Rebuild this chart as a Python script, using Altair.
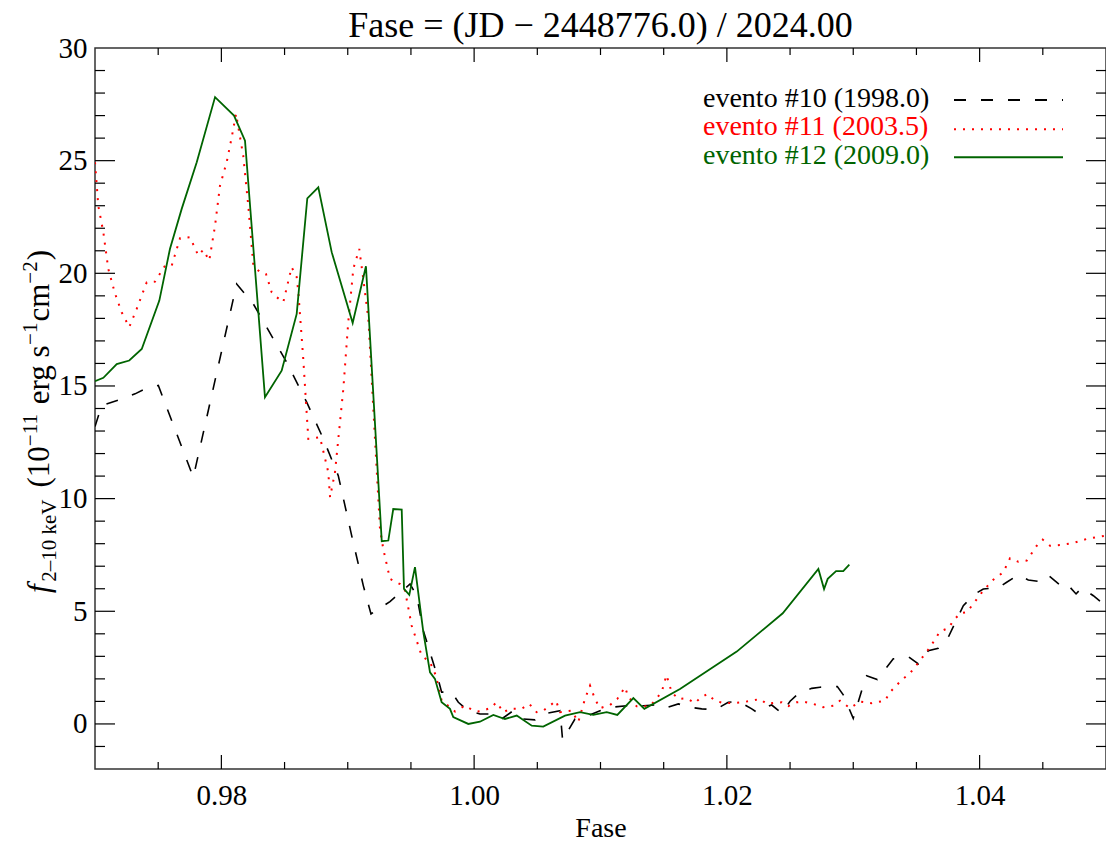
import altair as alt
import pandas as pd

FONT = "Liberation Serif"

# ---------------- data ----------------
# evento #10 (1998.0) - black dashed
x10 = [0.97000, 0.97053, 0.97219, 0.97317, 0.97422, 0.97501, 0.97778, 0.98121, 0.98253, 0.98517,
       0.98675, 0.98807, 0.98925, 0.99031, 0.99123, 0.99184, 0.99334, 0.99493, 0.99546, 0.99598,
       0.99704, 0.99743, 0.99823, 0.99875, 0.99954, 1.00046, 1.00152, 1.00218, 1.00310, 1.00389,
       1.00482, 1.00547, 1.00680, 1.00700, 1.00798, 1.00891, 1.00996, 1.01089, 1.01207, 1.01339,
       1.01431, 1.01510, 1.01616, 1.01708, 1.01801, 1.01906, 1.02011, 1.02090, 1.02197, 1.02236,
       1.02276, 1.02355, 1.02434, 1.02500, 1.02573, 1.02671, 1.02737, 1.02874, 1.02921, 1.03000,
       1.03067, 1.03106, 1.03190, 1.03317, 1.03436, 1.03515, 1.03594, 1.03673, 1.03752, 1.03871,
       1.03963, 1.04029, 1.04148, 1.04214, 1.04306, 1.04385, 1.04509, 1.04551, 1.04642, 1.04676,
       1.04715, 1.04763, 1.04808, 1.04900, 1.05000]
y10 = [13.20, 14.13, 14.43, 14.65, 14.94, 15.02, 10.95, 19.53, 18.64, 16.05,
       14.28, 12.65, 11.02, 8.36, 6.14, 4.88, 5.43, 6.21, 5.69, 4.14,
       2.22, 1.41, 1.41, 0.96, 0.59, 0.44, 0.44, 0.22, 0.59, 0.22,
       0.18, 0.44, 0.59, -0.71, 0.22, 0.34, 0.59, 0.74, 0.81, 0.81,
       0.84, 0.70, 0.89, 0.74, 0.67, 0.63, 0.96, 1.01, 0.67, 0.52,
       0.67, 0.84, 0.47, 1.01, 1.38, 1.58, 1.63, 1.66, 1.29, 0.25,
       1.48, 2.14, 1.97, 2.89, 2.99, 2.66, 3.25, 3.36, 3.85, 5.25,
       5.77, 5.99, 6.04, 6.29, 6.61, 6.39, 6.29, 6.56, 6.14, 5.95,
       6.07, 5.77, 6.04, 5.69, 5.24]

# evento #11 (2003.5) - red dotted
x11 = [0.97000, 0.97026, 0.97066, 0.97105, 0.97158, 0.97211, 0.97271, 0.97330, 0.97409, 0.97475,
       0.97554, 0.97607, 0.97673, 0.97752, 0.97817, 0.97857, 0.97904, 0.97950, 0.97989, 0.98042,
       0.98082, 0.98116, 0.98173, 0.98213, 0.98253, 0.98306, 0.98353, 0.98398, 0.98438, 0.98490,
       0.98556, 0.98596, 0.98609, 0.98648, 0.98688, 0.98780, 0.98846, 0.98860, 0.98899, 0.98965,
       0.99004, 0.99044, 0.99091, 0.99123, 0.99163, 0.99255, 0.99281, 0.99334, 0.99413, 0.99453,
       0.99506, 0.99585, 0.99651, 0.99698, 0.99743, 0.99809, 0.99849, 0.99928, 0.99994, 1.00046,
       1.00126, 1.00179, 1.00231, 1.00284, 1.00376, 1.00437, 1.00495, 1.00547, 1.00600, 1.00648,
       1.00680, 1.00772, 1.00824, 1.00877, 1.00917, 1.00956, 1.00996, 1.01075, 1.01133, 1.01194,
       1.01220, 1.01286, 1.01392, 1.01484, 1.01522, 1.01563, 1.01616, 1.01682, 1.01748, 1.01787,
       1.01845, 1.01906, 1.01972, 1.02051, 1.02117, 1.02197, 1.02262, 1.02315, 1.02367, 1.02434,
       1.02486, 1.02553, 1.02605, 1.02684, 1.02763, 1.02842, 1.02895, 1.02974, 1.03053, 1.03146,
       1.03251, 1.03291, 1.03383, 1.03449, 1.03528, 1.03607, 1.03686, 1.03752, 1.03792, 1.03845,
       1.03898, 1.03950, 1.04029, 1.04108, 1.04187, 1.04240, 1.04306, 1.04373, 1.04452, 1.04499,
       1.04557, 1.04636, 1.04741, 1.04847, 1.04926, 1.05000]
y11 = [24.93, 23.00, 21.82, 20.20, 19.11, 18.27, 17.61, 18.42, 19.60, 19.63,
       20.34, 20.34, 21.56, 21.60, 20.79, 21.04, 20.56, 22.12, 23.89, 24.93,
       26.04, 27.08, 25.22, 23.00, 20.34, 20.05, 19.97, 19.16, 18.94, 18.72,
       20.27, 19.83, 19.16, 16.20, 12.65, 12.73, 11.17, 10.06, 11.17, 14.87,
       17.83, 20.20, 21.08, 19.75, 17.98, 8.66, 7.77, 6.44, 6.21, 5.92,
       4.36, 3.03, 2.74, 2.14, 1.03, 0.74, 0.55, 0.81, 0.59, 0.55,
       0.70, 0.96, 0.52, 0.67, 0.67, 0.89, 0.52, 0.59, 0.81, 1.03,
       0.52, 0.59, 0.08, 1.11, 1.70, 1.11, 0.70, 0.84, 1.11, 1.63,
       1.20, 0.78, 0.79, 1.41, 2.17, 1.41, 1.11, 1.14, 0.93, 1.14,
       1.33, 1.03, 0.93, 0.93, 0.96, 1.03, 1.11, 0.89, 0.93, 0.96,
       0.79, 0.96, 0.99, 0.89, 0.74, 0.81, 1.03, 0.70, 0.99, 0.92,
       1.03, 1.41, 1.95, 2.25, 2.81, 3.40, 4.10, 4.25, 4.58, 4.91,
       4.96, 5.33, 5.92, 6.40, 6.73, 7.35, 7.20, 7.25, 7.91, 8.18,
       7.91, 7.94, 8.03, 8.21, 8.29, 8.36]

# evento #12 (2009.0) - green solid
x12 = [0.97000, 0.97066, 0.97172, 0.97271, 0.97370, 0.97509, 0.97593, 0.97686, 0.97805, 0.97950,
       0.98100, 0.98187, 0.98345, 0.98477, 0.98596, 0.98680, 0.98767, 0.98873, 0.99039, 0.99144,
       0.99269, 0.99321, 0.99360, 0.99427, 0.99445, 0.99487, 0.99532, 0.99598, 0.99651, 0.99690,
       0.99743, 0.99809, 0.99835, 0.99954, 1.00046, 1.00152, 1.00244, 1.00337, 1.00456, 1.00547,
       1.00719, 1.00838, 1.00943, 1.01049, 1.01133, 1.01260, 1.01347, 1.01629, 1.02078, 1.02442,
       1.02724, 1.02769, 1.02798, 1.02864, 1.02921, 1.02969]
y12 = [15.21, 15.36, 15.97, 16.13, 16.64, 18.79, 21.08, 22.86, 24.93, 27.82,
       27.00, 25.89, 14.50, 15.68, 18.20, 23.33, 23.82, 20.94, 17.80, 20.31,
       8.11, 8.14, 9.54, 9.51, 5.99, 5.73, 6.96, 4.07, 2.29, 2.00,
       0.96, 0.67, 0.30, 0.00, 0.10, 0.40, 0.22, 0.37, -0.08, -0.12,
       0.37, 0.52, 0.40, 0.52, 0.40, 1.15, 0.67, 1.55, 3.21, 4.91,
       6.88, 5.99, 6.44, 6.78, 6.78, 7.07]

series_x = [x10, x11, x12]
series_y = [y10, y11, y12]
series_names = ["evento #10 (1998.0)", "evento #11 (2003.5)", "evento #12 (2009.0)"]
series_colors = ["#000000", "#ff0000", "#006400"]

# axis ticks / labels
x_major = [0.98, 1.00, 1.02, 1.04]
x_minor = [0.975, 0.985, 0.99, 0.995, 1.005, 1.01, 1.015, 1.025, 1.03, 1.035, 1.045]
y_labels = [0, 5, 10, 15, 20, 25, 30]
y_major = [0, 5, 10, 15, 20, 25]
y_minor = [v for v in range(-1, 30) if v % 5 != 0]

title_text = "Fase = (JD \u2212 2448776.0) / 2024.00"

# ---------------- layout ----------------
W, H = 1011, 721
xs = alt.Scale(domain=[0.97, 1.05], nice=False, zero=False)
ys = alt.Scale(domain=[-2, 30], nice=False, zero=False)

xaxis = alt.Axis(values=x_major, format=".2f", tickSize=0, domain=False, grid=False,
                 labelFont=FONT, labelFontSize=29, labelColor="black", labelPadding=12,
                 labelFlush=False,
                 title="Fase", titleFont=FONT, titleFontSize=28, titleFontWeight="normal",
                 titleColor="black", titlePadding=4)
yaxis = alt.Axis(values=y_labels, format="d", tickSize=0, domain=False, grid=False,
                 labelFont=FONT, labelFontSize=29, labelColor="black", labelPadding=8,
                 title="")

X = alt.X("x:Q", scale=xs, axis=xaxis)
Y = alt.Y("y:Q", scale=ys, axis=yaxis)

layers = []

# data lines
dashes = [[12, 15], [2, 7], None]
widths = [1.6, 2.0, 1.8]
for xv, yv, col, dash, w in zip(series_x, series_y, series_colors, dashes, widths):
    df = pd.DataFrame({"x": xv, "y": yv, "i": list(range(len(xv)))})
    kw = dict(color=col, strokeWidth=w, clip=True)
    if dash is not None:
        kw["strokeDash"] = dash
    layers.append(alt.Chart(df).mark_line(**kw).encode(x=X, y=Y, order="i:Q"))

# inward ticks (IDL style), on all four sides
def xticks(vals, length):
    df = pd.DataFrame({"x": vals})
    b = alt.Chart(df).mark_rule(color="black", strokeWidth=1.2).encode(
        x=X, y=alt.value(H), y2=alt.value(H - length))
    t = alt.Chart(df).mark_rule(color="black", strokeWidth=1.2).encode(
        x=X, y=alt.value(0), y2=alt.value(length))
    return [b, t]

def yticks(vals, length):
    df = pd.DataFrame({"y": vals})
    l = alt.Chart(df).mark_rule(color="black", strokeWidth=1.2).encode(
        y=Y, x=alt.value(0), x2=alt.value(length))
    r = alt.Chart(df).mark_rule(color="black", strokeWidth=1.2).encode(
        y=Y, x=alt.value(W), x2=alt.value(W - length))
    return [l, r]

layers += xticks(x_major, 14) + xticks(x_minor, 7)
layers += yticks(y_major, 20) + yticks(y_minor, 10)

# legend (top right)
leg_text_y = [58.7, 87.0, 116.3]
leg_line_y = [52.0, 81.3, 109.3]
for name, col, dash, ty, ly in zip(series_names, series_colors, dashes, leg_text_y, leg_line_y):
    layers.append(alt.Chart(pd.DataFrame({"t": [name]})).mark_text(
        align="left", baseline="alphabetic", font=FONT, fontSize=28, color=col
    ).encode(x=alt.value(608), y=alt.value(ty), text="t:N"))
    kw = dict(color=col, strokeWidth=2)
    if dash is not None:
        kw["strokeDash"] = dash
    layers.append(alt.Chart(pd.DataFrame({"t": [name]})).mark_rule(**kw).encode(
        x=alt.value(859), x2=alt.value(968), y=alt.value(ly)))

# title
layers.append(alt.Chart(pd.DataFrame({"t": [title_text]})).mark_text(
    align="center", baseline="alphabetic", font=FONT, fontSize=36, color="black"
).encode(x=alt.value(W / 2), y=alt.value(-11), text="t:N"))

# y-axis title built from pieces (italic f, subscript, superscripts)
# SVG drops leading spaces, so gaps are added to the running offset instead.
EM = {'f': 0.30, '2': 0.5, '1': 0.5, '0': 0.5, '\u2013': 0.5, '\u2212': 0.564, ' ': 0.25,
      'k': 0.5, 'e': 0.444, 'V': 0.722, '(': 0.333, ')': 0.333, 'r': 0.333, 'g': 0.5,
      's': 0.389, 'c': 0.444, 'm': 0.778}
BIG, SMALL = 31, 21
# (text, size, style, baseline shift, gap after)
pieces = [("f", BIG, "italic", 0, 2), ("2\u201310 keV", SMALL, "normal", 7, 12),
          ("(10", BIG, "normal", 0, 0), ("\u221211", SMALL, "normal", -12, 9),
          ("erg s", BIG, "normal", 0, 0), ("\u22121", SMALL, "normal", -12, 1),
          ("cm", BIG, "normal", 0, 0), ("\u22122", SMALL, "normal", -12, 1),
          (")", BIG, "normal", 0, 0)]
offset = 0.0
for txt, fs, style, shift, extra in pieces:
    layers.append(alt.Chart(pd.DataFrame({"t": [txt]})).mark_text(
        align="left", baseline="alphabetic", angle=270, font=FONT, fontSize=fs,
        fontStyle=style, color="black", dx=offset, dy=shift
    ).encode(x=alt.value(-46), y=alt.value(545), text="t:N"))
    offset += sum(EM.get(c, 0.5) for c in txt) * fs + extra

chart = alt.layer(*layers).properties(
    width=W, height=H,
    autosize=alt.AutoSizeParams(type="none"),
    padding={"left": 95, "top": 48, "right": 0, "bottom": 74},
    background="white",
).configure_view(stroke="#333333", strokeWidth=1.5)

chart.save("out.html", embed_options={"renderer": "svg", "actions": False})
